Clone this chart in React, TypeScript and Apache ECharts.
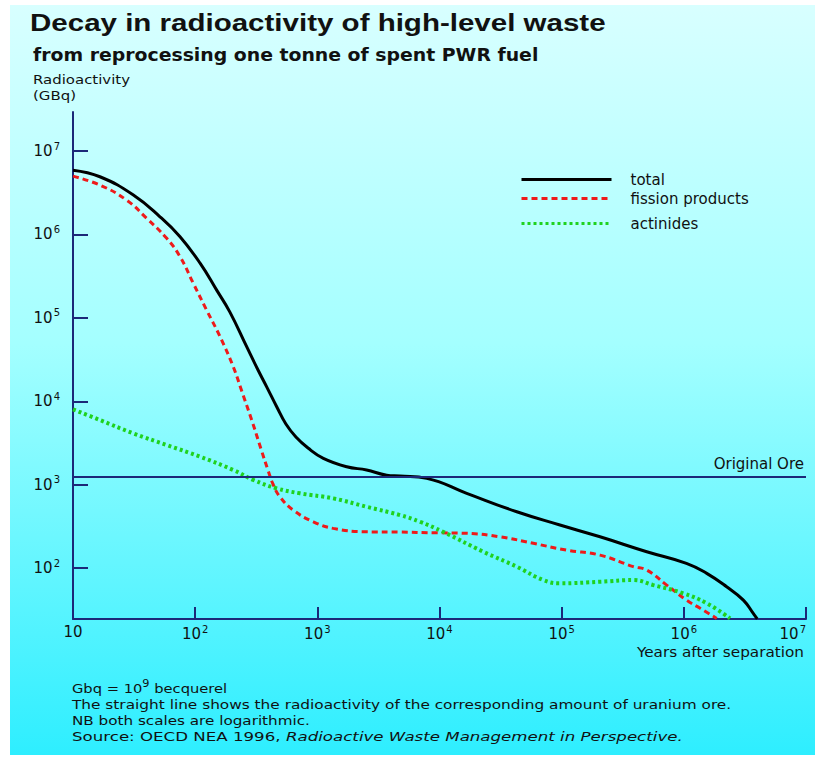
import React, { useEffect, useRef } from "react";
import * as echarts from "echarts";

// ---- data (years after separation, radioactivity in GBq) ----
const YEARS_TOTAL = [10, 16.6, 31.2, 51.5, 75.2, 110, 150, 192, 264, 327, 385, 465, 553, 668, 839, 1120, 1740, 2530, 3700, 4750, 7860, 16700, 42900, 96800, 206000, 497000, 1050000, 1540000, 2240000, 3070000, 3700000, 3990000];
const GBQ_TOTAL = [5.9e6, 4.92e6, 2.97e6, 1.63e6, 9.38e5, 4.5e5, 2.15e5, 1.18e5, 4.51e4, 2.37e4, 1.49e4, 8600, 5330, 3725, 2750, 2070, 1640, 1500, 1300, 1270, 1190, 787, 473, 328, 237, 157, 114, 86.4, 59.7, 41.3, 28.6, 24.6];

const YEARS_FISSION = [10, 16.6, 27.5, 40.1, 58.5, 75.2, 96.6, 124, 160, 204, 242, 292, 346, 394, 433, 494, 635, 927, 1350, 2530, 4750, 8900, 16700, 31300, 58600, 110000, 206000, 386000, 497000, 724000, 1050000, 1360000, 1860000];
const GBQ_FISSION = [5.0e6, 3.91e6, 2.58e6, 1.56e6, 8.98e5, 5.41e5, 2.59e5, 1.24e5, 5.93e4, 2.64e4, 1.29e4, 5800, 2670, 1500, 1020, 716, 495, 359, 299, 272, 270, 265, 261, 237, 198, 164, 143, 104, 94.6, 62.5, 41.3, 32.9, 24.9];

const YEARS_ACTINIDES = [10, 16.6, 31.2, 58.5, 110, 205, 299, 465, 721, 1350, 2530, 4750, 6920, 10700, 22800, 42900, 70800, 96800, 206000, 386000, 562000, 990000, 1540000, 2390000];
const GBQ_ACTINIDES = [8000, 5960, 4120, 2990, 2160, 1500, 1140, 903, 787, 685, 543, 432, 359, 272, 157, 104, 71.8, 65.6, 68.5, 71.8, 62.5, 49.8, 37.8, 24.9];

const ORIGINAL_ORE = 1250;

const SERIES_NAMES = ["total", "fission products", "actinides"];
const X_TICK_EXPONENTS = [1, 2, 3, 4, 5, 6, 7];
const Y_TICK_EXPONENTS = [2, 3, 4, 5, 6, 7];
const Y_RANGE_GBQ = [24.5, 2.94e7];

const TITLE = "Decay in radioactivity of high-level waste";
const SUBTITLE = "from reprocessing one tonne of spent PWR fuel";
const Y_NAME = ["Radioactivity", "(GBq)"];
const X_NAME = "Years after separation";
const NOTE_1 = "{a|Gbq = 10}{s|9}{a| becquerel}";
const NOTE_2 = "The straight line shows the radioactivity of the corresponding amount of uranium ore.";
const NOTE_3 = "NB both scales are logarithmic.";
const NOTE_4 = "{a|Source: OECD NEA 1996, }{i|Radioactive Waste Management in Perspective.}";

const FONT = "DejaVu Sans";
const NAVY = "#1c2878";
const INK = "#111111";

const toLog = (xs: number[], ys: number[]) => xs.map((x, i) => [Math.log10(x), Math.log10(ys[i])]);

export default function App() {
  const ref = useRef<HTMLDivElement>(null);

  useEffect(() => {
    if (!ref.current) return;
    const chart = echarts.init(ref.current, undefined, { renderer: "svg" });

    const powRich = {
      b: { fontFamily: FONT, fontSize: 15, color: INK },
      s: { fontFamily: FONT, fontSize: 10, color: INK, padding: [0, 0, 10, 1] },
    };

    const legendCommon = {
      orient: "vertical",
      left: 520,
      itemWidth: 90,
      itemHeight: 14,
      padding: 0,
      selectedMode: false,
      lineStyle: { width: 3 },
      itemStyle: { opacity: 0 },
      textStyle: { fontFamily: FONT, fontSize: 15, color: INK, padding: [0, 0, 0, 14] },
    };

    const noteRich = {
      a: { fontFamily: FONT, fontSize: 13, fill: INK },
      s: { fontFamily: FONT, fontSize: 10, fill: INK, padding: [0, 0, 9, 0] },
      i: { fontFamily: FONT, fontSize: 13, fontStyle: "italic", fill: INK },
    };

    const option: any = {
      animation: false,
      backgroundColor: "#ffffff",
      grid: { left: 73, right: 9, top: 112, bottom: 138, outerBoundsMode: "none" },
      legend: [
        { ...legendCommon, data: [SERIES_NAMES[0]], top: 172 },
        { ...legendCommon, data: [SERIES_NAMES[1]], top: 191 },
        { ...legendCommon, data: [SERIES_NAMES[2]], top: 216 },
      ],
      xAxis: {
        type: "value",
        min: X_TICK_EXPONENTS[0],
        max: X_TICK_EXPONENTS[X_TICK_EXPONENTS.length - 1],
        interval: 1,
        splitLine: { show: false },
        axisLine: { show: true, lineStyle: { color: NAVY, width: 2 } },
        axisTick: { show: true, inside: true, length: 12, lineStyle: { color: NAVY, width: 2 } },
        axisLabel: {
          margin: 5,
          alignMaxLabel: "right",
          formatter: (v: number) => (v === 1 ? "{b|10}" : `{b|10}{s|${v}}`),
          rich: powRich,
        },
      },
      yAxis: {
        type: "value",
        min: Math.log10(Y_RANGE_GBQ[0]),
        max: Math.log10(Y_RANGE_GBQ[1]),
        splitLine: { show: false },
        axisLine: { show: true, lineStyle: { color: NAVY, width: 2 } },
        axisTick: { show: true, inside: true, length: 15, customValues: Y_TICK_EXPONENTS, lineStyle: { color: NAVY, width: 2 } },
        axisLabel: {
          margin: 13,
          customValues: Y_TICK_EXPONENTS,
          formatter: (v: number) => `{b|10}{s|${Math.round(v)}}`,
          rich: powRich,
        },
      },
      series: [
        {
          name: "Original Ore",
          type: "line",
          data: [],
          silent: true,
          markLine: {
            silent: true,
            symbol: "none",
            lineStyle: { color: NAVY, width: 2, type: "solid" },
            label: {
              show: true,
              position: "insideEndTop",
              formatter: "Original Ore",
              fontFamily: FONT,
              fontSize: 15,
              color: INK,
              distance: [2, 5],
            },
            data: [{ yAxis: Math.log10(ORIGINAL_ORE) }],
          },
        },
        {
          name: SERIES_NAMES[1],
          type: "line",
          symbol: "none",
          smooth: 0.45,
          data: toLog(YEARS_FISSION, GBQ_FISSION),
          lineStyle: { color: "#ee1a1a", width: 3, type: [6, 4] },
          itemStyle: { color: "#ee1a1a" },
        },
        {
          name: SERIES_NAMES[2],
          type: "line",
          symbol: "none",
          smooth: 0.45,
          data: toLog(YEARS_ACTINIDES, GBQ_ACTINIDES),
          lineStyle: { color: "#1fd21f", width: 4, type: [3, 3] },
          itemStyle: { color: "#1fd21f" },
        },
        {
          name: SERIES_NAMES[0],
          type: "line",
          symbol: "none",
          smooth: 0.45,
          data: toLog(YEARS_TOTAL, GBQ_TOTAL),
          lineStyle: { color: "#000000", width: 3 },
          itemStyle: { color: "#000000" },
        },
      ],
      graphic: {
        elements: [
          {
            type: "rect",
            z: -100,
            silent: true,
            shape: { x: 10, y: 5, width: 805, height: 750 },
            style: {
              fill: new echarts.graphic.LinearGradient(0, 0, 0, 1, [
                { offset: 0, color: "#d8ffff" },
                { offset: 0.45, color: "#a4ffff" },
                { offset: 1, color: "#2eeeff" },
              ]),
            },
          },
          {
            type: "text", x: 30, y: 23, z: 100, scaleX: 1.23,
            style: { text: TITLE, fontFamily: "Liberation Sans", fontWeight: "bold", fontSize: 24, fill: INK, verticalAlign: "middle" },
          },
          {
            type: "text", x: 33, y: 55, z: 100, scaleX: 1.11,
            style: { text: SUBTITLE, fontFamily: FONT, fontWeight: "bold", fontSize: 17, fill: INK, verticalAlign: "middle" },
          },
          {
            type: "text", x: 33, y: 79, z: 100, scaleX: 1.15,
            style: { text: Y_NAME[0], fontFamily: FONT, fontSize: 13, fill: INK, verticalAlign: "middle" },
          },
          {
            type: "text", x: 33, y: 95, z: 100, scaleX: 1.15,
            style: { text: Y_NAME[1], fontFamily: FONT, fontSize: 13, fill: INK, verticalAlign: "middle" },
          },
          {
            type: "text", x: 804, y: 652, z: 100, scaleX: 1.09,
            style: { text: X_NAME, fontFamily: FONT, fontSize: 14, fill: INK, align: "right", verticalAlign: "middle" },
          },
          {
            type: "text", x: 72, y: 688, z: 100, scaleX: 1.13,
            style: { text: NOTE_1, verticalAlign: "middle", rich: noteRich },
          },
          {
            type: "text", x: 72, y: 704, z: 100, scaleX: 1.18,
            style: { text: NOTE_2, fontFamily: FONT, fontSize: 13, fill: INK, verticalAlign: "middle" },
          },
          {
            type: "text", x: 72, y: 720, z: 100, scaleX: 1.17,
            style: { text: NOTE_3, fontFamily: FONT, fontSize: 13, fill: INK, verticalAlign: "middle" },
          },
          {
            type: "text", x: 72, y: 737, z: 100, scaleX: 1.28,
            style: { text: NOTE_4, verticalAlign: "middle", rich: noteRich },
          },
        ],
      },
    };

    chart.setOption(option);
    return () => chart.dispose();
  }, []);

  return <div ref={ref} style={{ position: "fixed", left: 0, top: 0, width: 815, height: 757 }} />;
}
